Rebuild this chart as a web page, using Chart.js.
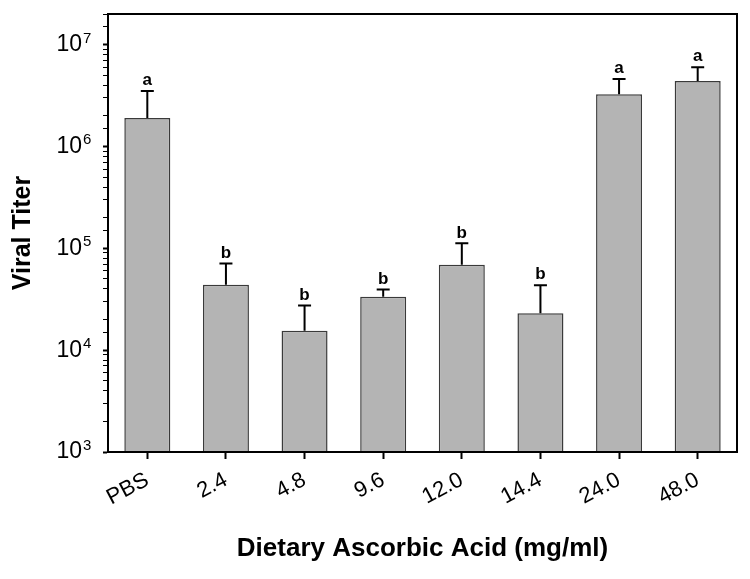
<!DOCTYPE html>
<html>
<head>
<meta charset="utf-8">
<script src="https://cdn.jsdelivr.net/npm/chart.js@4.4.0/dist/chart.umd.min.js"></script>
<style>
  html, body { margin: 0; padding: 0; background: #fff; }
</style>
</head>
<body>
<canvas id="titerChart" width="750" height="579"></canvas>
<script>
// Data
const categories = ['PBS', '2.4', '4.8', '9.6', '12.0', '14.4', '24.0', '48.0'];
const titerMeans = [1.9e6, 4.4e4, 1.55e4, 3.35e4, 6.9e4, 2.3e4, 3.25e6, 4.4e6];
const titerUpper = [3.5e6, 7.1e4, 2.75e4, 3.95e4, 1.12e5, 4.35e4, 4.6e6, 6.0e6];
const groupLetters = ['a', 'b', 'b', 'b', 'b', 'b', 'a', 'a'];

const FONT = "'Liberation Sans', Arial, sans-serif";
const Y_TICK_LEN = 5;
const Y_TICK_PAD = 21;

function isDecade(v) {
    const e = Math.log10(v);
    return Math.abs(e - Math.round(e)) < 1e-9;
}

// Error bars, group letters, exponents on the y labels and the frame
const errorBarPlugin = {
    id: 'errorBars',
    afterDatasetsDraw(chart) {
        const ctx = chart.ctx;
        const yScale = chart.scales.y;
        const meta = chart.getDatasetMeta(0);
        ctx.save();
        ctx.strokeStyle = '#000';
        ctx.fillStyle = '#000';
        ctx.lineWidth = 2;
        ctx.font = `bold 17px ${FONT}`;
        ctx.textAlign = 'center';
        ctx.textBaseline = 'bottom';
        meta.data.forEach((bar, i) => {
            const top = yScale.getPixelForValue(titerUpper[i]);
            ctx.beginPath();
            ctx.moveTo(bar.x, bar.y);
            ctx.lineTo(bar.x, top);
            ctx.moveTo(bar.x - 6.5, top);
            ctx.lineTo(bar.x + 6.5, top);
            ctx.stroke();
            ctx.fillText(groupLetters[i], bar.x, top - 2);
        });

        // exponents next to the "10" tick labels
        ctx.font = `15px ${FONT}`;
        ctx.textAlign = 'left';
        ctx.textBaseline = 'alphabetic';
        const labelRight = yScale.right - Y_TICK_LEN - Y_TICK_PAD;
        yScale.ticks.forEach(t => {
            if (!isDecade(t.value)) return;
            const py = yScale.getPixelForValue(t.value);
            ctx.fillText(String(Math.round(Math.log10(t.value))), labelRight + 1, py - 2);
        });

        const a = chart.chartArea;
        ctx.lineWidth = 2;
        ctx.strokeRect(a.left, a.top, a.right - a.left, a.bottom - a.top);
        ctx.restore();
    }
};

new Chart(document.getElementById('titerChart').getContext('2d'), {
    type: 'bar',
    data: {
        labels: categories,
        datasets: [{
            data: titerMeans,
            backgroundColor: '#b4b4b4',
            borderColor: '#3a3a3a',
            borderWidth: 1.5,
            barPercentage: 0.585,
            categoryPercentage: 1.0
        }]
    },
    options: {
        responsive: false,
        animation: false,
        layout: { padding: { left: 0, top: 14, right: 13, bottom: 0 } },
        plugins: {
            legend: { display: false },
            tooltip: { enabled: false }
        },
        scales: {
            x: {
                offset: true,
                grid: {
                    display: true,
                    drawOnChartArea: false,
                    drawTicks: true,
                    offset: false,
                    tickLength: 7,
                    tickColor: '#000',
                    tickWidth: 2
                },
                border: { display: true, color: '#000', width: 2 },
                ticks: {
                    color: '#000',
                    font: { family: FONT, size: 22 },
                    minRotation: 28,
                    maxRotation: 28,
                    padding: 8,
                    autoSkip: false
                },
                title: {
                    display: true,
                    text: 'Dietary Ascorbic Acid (mg/ml)',
                    color: '#000',
                    font: { family: FONT, size: 26, weight: 'bold' },
                    padding: { top: 0, bottom: 15 }
                },
                afterFit(scale) {
                    scale.height = 127;
                    scale.paddingLeft = 0;
                    scale.paddingRight = 0;
                }
            },
            y: {
                type: 'logarithmic',
                min: 1e3,
                max: 2e7,
                grid: {
                    display: true,
                    drawOnChartArea: false,
                    drawTicks: true,
                    tickLength: Y_TICK_LEN,
                    tickColor: '#000',
                    tickWidth: (c) => (c.tick && isDecade(c.tick.value) ? 2 : 1)
                },
                border: { display: true, color: '#000', width: 2 },
                ticks: {
                    color: '#000',
                    font: { family: FONT, size: 23 },
                    padding: Y_TICK_PAD,
                    autoSkip: false,
                    callback: (value) => (isDecade(value) ? '10' : '')
                },
                title: {
                    display: true,
                    text: 'Viral Titer',
                    color: '#000',
                    font: { family: FONT, size: 25, weight: 'bold' },
                    padding: { top: 8, bottom: 0 }
                },
                afterFit(scale) {
                    scale.width = 108;
                    scale.paddingTop = 0;
                    scale.paddingBottom = 0;
                }
            }
        }
    },
    plugins: [errorBarPlugin]
});
</script>
</body>
</html>
